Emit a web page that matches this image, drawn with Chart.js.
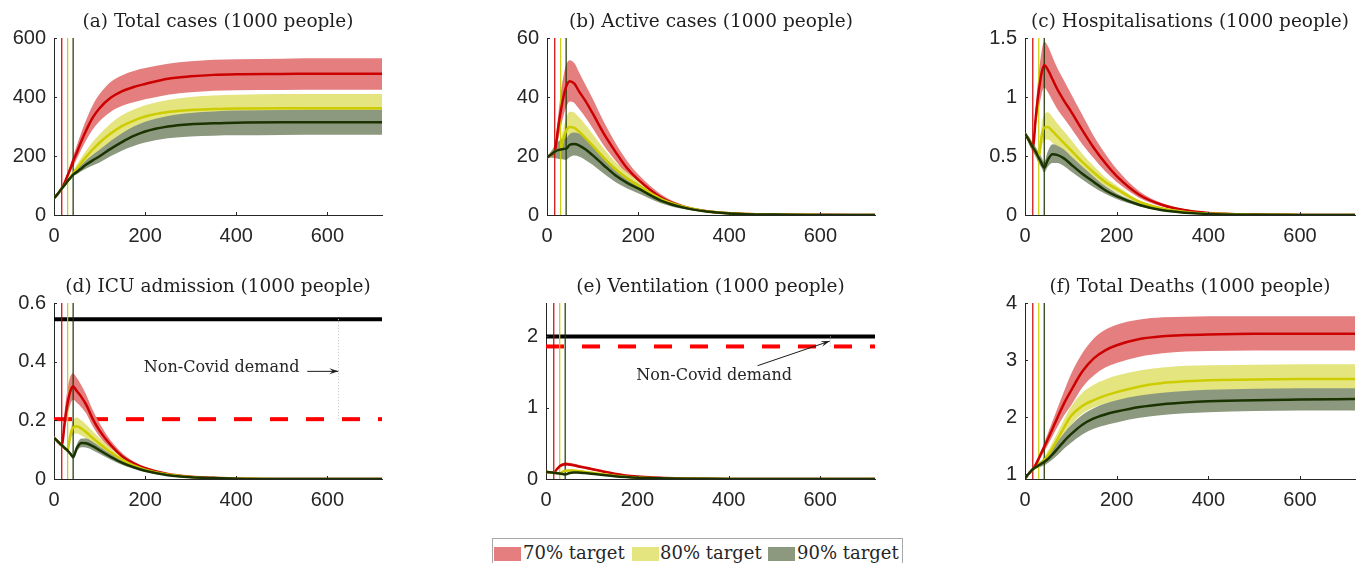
<!DOCTYPE html>
<html>
<head>
<meta charset="utf-8">
<title>Vaccination target scenarios</title>
<script src="https://cdn.jsdelivr.net/npm/chart.js@4.4.1/dist/chart.umd.min.js"></script>
<style>
  html, body { margin: 0; padding: 0; background: #fff; }
  body { position: relative; width: 1359px; height: 563px; overflow: hidden; }
  canvas { position: absolute; }
  #legend { position: absolute; left: 492px; top: 538px; width: 411px; height: 34px; border: 1px solid #a8a8a8;
            box-sizing: border-box; background: #fff; font: 18px "DejaVu Serif", serif; color: #262626; }
  #legend .sw { position: absolute; top: 8px; width: 27px; height: 14px; }
  #legend .tx { position: absolute; top: 3px; line-height: 22px; white-space: nowrap; }
</style>
</head>
<body>
<div id="legend"></div>
<script>
// sample days shared by every series
const days = [0, 9, 17, 24, 30, 36, 42, 50, 60, 70, 85, 100, 125, 150, 175, 200, 250, 300, 350, 400, 500, 600, 720];
const interventionDays = [17, 30, 42];
const targets = ["70% target", "80% target", "90% target"];
const xTicks = [0, 200, 400, 600];

// (a) total cases
const totalTicks = [0, 200, 400, 600];
const totalR   = [57, 73, 90, 112, 135, 158, 182, 212, 250, 285, 330, 362, 398, 420, 434, 444, 462, 470, 475, 477, 478, 479, 479];
const totalRHi = [57, 74, 93, 118, 145, 172, 200, 235, 280, 320, 372, 410, 452, 474, 488, 498, 513, 521, 526, 528, 530, 531, 531];
const totalRLo = [57, 72, 87, 106, 125, 144, 164, 190, 222, 252, 290, 318, 350, 370, 382, 392, 408, 416, 421, 423, 424, 425, 425];
const totalY   = [57, 73, 90, 103, 115, 128, 141, 157, 177, 196, 222, 245, 277, 302, 320, 334, 349, 356, 359, 361, 362, 362, 362];
const totalYHi = [57, 74, 92, 106, 119, 134, 150, 170, 194, 217, 248, 274, 311, 339, 358, 372, 390, 400, 405, 408, 410, 410, 410];
const totalYLo = [57, 72, 88, 100, 111, 122, 132, 144, 160, 175, 196, 216, 243, 264, 280, 293, 306, 312, 315, 317, 318, 319, 319];
const totalG   = [57, 73, 90, 103, 115, 126, 137, 146, 158, 170, 185, 199, 225, 248, 268, 283, 300, 308, 311, 313, 314, 314, 314];
const totalGHi = [57, 74, 92, 106, 119, 131, 143, 155, 170, 185, 204, 221, 252, 278, 300, 316, 336, 346, 351, 354, 356, 357, 357];
const totalGLo = [57, 72, 88, 100, 111, 121, 131, 138, 148, 157, 168, 178, 200, 219, 234, 246, 260, 266, 269, 270, 271, 272, 272];

// (b) active cases
const activeTicks = [0, 20, 40, 60];
const activeR   = [19.5, 20.5, 21.5, 29, 35, 40, 43.5, 45.3, 44.5, 42, 38.5, 34.5, 27.5, 21.5, 16, 12, 6, 2.8, 1.3, 0.6, 0.15, 0.05, 0];
const activeRHi = [19.5, 21.5, 23.5, 33, 41, 47, 51, 52.5, 51.5, 48.5, 44, 39.5, 31.5, 24.5, 18.5, 13.8, 7, 3.3, 1.5, 0.7, 0.2, 0.05, 0];
const activeRLo = [19.5, 19.5, 19.3, 25, 29.5, 33.5, 36.5, 38.5, 38, 36, 33, 29.5, 23.5, 18.5, 13.8, 10.3, 5.1, 2.4, 1.1, 0.5, 0.12, 0.03, 0];
const activeY   = [19.5, 20.5, 21.5, 22, 22.2, 26, 28.5, 29.8, 29.5, 28.3, 26, 23.5, 19.3, 15.5, 12.5, 10, 5.5, 2.8, 1.3, 0.6, 0.15, 0.04, 0];
const activeYHi = [19.5, 21.5, 23.5, 24.8, 25.5, 29.5, 33, 35, 34.7, 33.2, 30.5, 27.5, 22.5, 18, 14.5, 11.5, 6.3, 3.2, 1.5, 0.7, 0.17, 0.05, 0];
const activeYLo = [19.5, 19.5, 19.3, 19.1, 19, 21.5, 23.5, 25.5, 25.3, 24.2, 22.2, 20, 16.5, 13.2, 10.7, 8.5, 4.7, 2.4, 1.1, 0.5, 0.12, 0.03, 0];
const activeG   = [19.5, 20.5, 21.5, 22, 22.2, 22.4, 22.5, 23.8, 24.1, 23.6, 22.2, 20.3, 16.8, 13.5, 11, 9, 4.9, 2.5, 1.2, 0.55, 0.13, 0.03, 0];
const activeGHi = [19.5, 21.5, 23.5, 24.8, 25.5, 25.8, 26, 27.5, 28, 27.6, 26, 23.8, 19.8, 16, 13, 10.6, 5.8, 3, 1.4, 0.65, 0.15, 0.04, 0];
const activeGLo = [19.5, 19.5, 19.3, 19.1, 19, 18.8, 18.7, 19.7, 20.2, 19.8, 18.6, 17, 14, 11.2, 9.1, 7.4, 4, 2, 1, 0.45, 0.1, 0.02, 0];

// (c) hospitalisations
const hospTicks = [0, 0.5, 1, 1.5];
const hospR   = [0.69, 0.63, 0.575, 0.85, 1.05, 1.2, 1.27, 1.23, 1.15, 1.07, 0.97, 0.88, 0.72, 0.57, 0.44, 0.33, 0.17, 0.085, 0.04, 0.018, 0.004, 0.001, 0];
const hospRHi = [0.7, 0.66, 0.61, 0.95, 1.2, 1.38, 1.47, 1.43, 1.34, 1.25, 1.14, 1.03, 0.85, 0.67, 0.52, 0.39, 0.2, 0.1, 0.048, 0.021, 0.005, 0.001, 0];
const hospRLo = [0.68, 0.6, 0.54, 0.76, 0.9, 1.02, 1.08, 1.04, 0.97, 0.9, 0.82, 0.74, 0.6, 0.48, 0.37, 0.28, 0.145, 0.072, 0.034, 0.015, 0.003, 0.001, 0];
const hospY   = [0.69, 0.63, 0.575, 0.53, 0.485, 0.66, 0.74, 0.745, 0.71, 0.67, 0.61, 0.55, 0.45, 0.36, 0.28, 0.22, 0.11, 0.055, 0.026, 0.012, 0.003, 0.001, 0];
const hospYHi = [0.7, 0.66, 0.61, 0.57, 0.53, 0.76, 0.85, 0.87, 0.83, 0.78, 0.71, 0.64, 0.52, 0.415, 0.32, 0.25, 0.125, 0.063, 0.03, 0.014, 0.003, 0.001, 0];
const hospYLo = [0.68, 0.6, 0.54, 0.49, 0.44, 0.57, 0.63, 0.64, 0.61, 0.58, 0.53, 0.48, 0.39, 0.31, 0.245, 0.19, 0.097, 0.048, 0.022, 0.01, 0.002, 0.001, 0];
const hospG   = [0.69, 0.63, 0.575, 0.53, 0.485, 0.44, 0.4, 0.47, 0.515, 0.51, 0.48, 0.43, 0.35, 0.28, 0.21, 0.16, 0.085, 0.04, 0.02, 0.009, 0.002, 0, 0];
const hospGHi = [0.7, 0.66, 0.61, 0.57, 0.53, 0.49, 0.45, 0.54, 0.6, 0.59, 0.555, 0.5, 0.41, 0.325, 0.245, 0.185, 0.1, 0.047, 0.023, 0.01, 0.002, 0, 0];
const hospGLo = [0.68, 0.6, 0.54, 0.49, 0.44, 0.4, 0.36, 0.41, 0.44, 0.44, 0.415, 0.37, 0.3, 0.235, 0.18, 0.135, 0.072, 0.034, 0.017, 0.008, 0.002, 0, 0];

// (d) ICU admission
const icuTicks = [0, 0.2, 0.4, 0.6];
const icuLevels = [0.545, 0.204];   // capacity, non-covid demand
const icuR   = [0.14, 0.127, 0.115, 0.2, 0.26, 0.3, 0.315, 0.3, 0.28, 0.255, 0.205, 0.165, 0.115, 0.077, 0.053, 0.037, 0.017, 0.008, 0.004, 0.002, 0, 0, 0];
const icuRHi = [0.145, 0.133, 0.12, 0.24, 0.31, 0.35, 0.36, 0.345, 0.32, 0.29, 0.235, 0.19, 0.13, 0.088, 0.06, 0.042, 0.019, 0.009, 0.004, 0.002, 0, 0, 0];
const icuRLo = [0.135, 0.121, 0.11, 0.17, 0.22, 0.255, 0.27, 0.26, 0.245, 0.225, 0.18, 0.145, 0.1, 0.067, 0.046, 0.032, 0.015, 0.007, 0.003, 0.001, 0, 0, 0];
const icuY   = [0.14, 0.127, 0.115, 0.105, 0.097, 0.15, 0.175, 0.18, 0.172, 0.16, 0.14, 0.12, 0.09, 0.065, 0.046, 0.032, 0.015, 0.007, 0.003, 0.0015, 0, 0, 0];
const icuYHi = [0.145, 0.133, 0.12, 0.11, 0.102, 0.17, 0.2, 0.21, 0.2, 0.187, 0.163, 0.14, 0.105, 0.075, 0.053, 0.037, 0.017, 0.008, 0.004, 0.002, 0, 0, 0];
const icuYLo = [0.135, 0.121, 0.11, 0.1, 0.092, 0.13, 0.15, 0.155, 0.148, 0.138, 0.12, 0.103, 0.078, 0.057, 0.04, 0.028, 0.013, 0.006, 0.003, 0.001, 0, 0, 0];
const icuG   = [0.14, 0.127, 0.115, 0.105, 0.097, 0.086, 0.075, 0.105, 0.123, 0.122, 0.112, 0.098, 0.075, 0.055, 0.04, 0.028, 0.013, 0.006, 0.003, 0.001, 0, 0, 0];
const icuGHi = [0.145, 0.133, 0.12, 0.11, 0.102, 0.092, 0.082, 0.118, 0.138, 0.138, 0.127, 0.111, 0.085, 0.062, 0.045, 0.032, 0.015, 0.007, 0.003, 0.001, 0, 0, 0];
const icuGLo = [0.135, 0.121, 0.11, 0.1, 0.092, 0.08, 0.068, 0.093, 0.108, 0.107, 0.098, 0.086, 0.066, 0.048, 0.035, 0.024, 0.011, 0.005, 0.002, 0.001, 0, 0, 0];

// (e) ventilation
const ventTicks = [0, 1, 2];
const ventLevels = [2.0, 1.86];
const ventR   = [0.1, 0.095, 0.088, 0.14, 0.18, 0.2, 0.21, 0.205, 0.195, 0.18, 0.16, 0.14, 0.105, 0.075, 0.05, 0.035, 0.016, 0.007, 0.003, 0.001, 0, 0, 0];
const ventRHi = [0.105, 0.1, 0.093, 0.155, 0.2, 0.222, 0.233, 0.228, 0.217, 0.2, 0.178, 0.156, 0.117, 0.084, 0.056, 0.039, 0.018, 0.008, 0.003, 0.001, 0, 0, 0];
const ventRLo = [0.095, 0.09, 0.083, 0.125, 0.16, 0.178, 0.187, 0.182, 0.173, 0.16, 0.142, 0.124, 0.093, 0.066, 0.044, 0.031, 0.014, 0.006, 0.003, 0.001, 0, 0, 0];
const ventY   = [0.1, 0.095, 0.088, 0.082, 0.077, 0.1, 0.115, 0.12, 0.118, 0.112, 0.1, 0.088, 0.066, 0.047, 0.032, 0.022, 0.01, 0.004, 0.002, 0.001, 0, 0, 0];
const ventYHi = [0.105, 0.1, 0.093, 0.087, 0.082, 0.112, 0.128, 0.134, 0.132, 0.125, 0.112, 0.098, 0.074, 0.053, 0.036, 0.025, 0.011, 0.005, 0.002, 0.001, 0, 0, 0];
const ventYLo = [0.095, 0.09, 0.083, 0.077, 0.072, 0.088, 0.102, 0.106, 0.104, 0.099, 0.088, 0.078, 0.058, 0.041, 0.028, 0.019, 0.009, 0.004, 0.002, 0.001, 0, 0, 0];
const ventG   = [0.1, 0.095, 0.088, 0.082, 0.077, 0.07, 0.062, 0.08, 0.09, 0.09, 0.083, 0.073, 0.056, 0.04, 0.028, 0.019, 0.009, 0.004, 0.002, 0.001, 0, 0, 0];
const ventGHi = [0.105, 0.1, 0.093, 0.087, 0.082, 0.075, 0.067, 0.088, 0.1, 0.1, 0.092, 0.081, 0.062, 0.045, 0.031, 0.021, 0.01, 0.004, 0.002, 0.001, 0, 0, 0];
const ventGLo = [0.095, 0.09, 0.083, 0.077, 0.072, 0.065, 0.057, 0.072, 0.08, 0.08, 0.074, 0.065, 0.05, 0.035, 0.025, 0.017, 0.008, 0.003, 0.002, 0.001, 0, 0, 0];

// (f) total deaths
const deathTicks = [1, 2, 3, 4];
const deathR   = [0.93, 1.02, 1.09, 1.18, 1.28, 1.38, 1.48, 1.62, 1.8, 1.98, 2.24, 2.46, 2.8, 3.03, 3.17, 3.26, 3.37, 3.42, 3.44, 3.45, 3.46, 3.46, 3.46];
const deathRHi = [0.93, 1.03, 1.11, 1.22, 1.33, 1.44, 1.56, 1.72, 1.93, 2.14, 2.45, 2.75, 3.12, 3.38, 3.53, 3.62, 3.71, 3.75, 3.76, 3.77, 3.77, 3.77, 3.77];
const deathRLo = [0.93, 1.01, 1.07, 1.15, 1.23, 1.32, 1.4, 1.52, 1.67, 1.82, 2.03, 2.2, 2.52, 2.73, 2.87, 2.95, 3.06, 3.12, 3.15, 3.16, 3.17, 3.17, 3.17];
const deathY   = [0.93, 1.02, 1.09, 1.13, 1.16, 1.2, 1.25, 1.33, 1.46, 1.6, 1.82, 2.02, 2.2, 2.3, 2.38, 2.44, 2.54, 2.6, 2.63, 2.65, 2.66, 2.67, 2.67];
const deathYHi = [0.93, 1.03, 1.11, 1.16, 1.2, 1.25, 1.31, 1.41, 1.56, 1.72, 1.96, 2.18, 2.43, 2.57, 2.66, 2.73, 2.82, 2.87, 2.9, 2.91, 2.92, 2.93, 2.93];
const deathYLo = [0.93, 1.01, 1.07, 1.1, 1.12, 1.15, 1.19, 1.25, 1.36, 1.48, 1.68, 1.86, 2.06, 2.17, 2.24, 2.29, 2.36, 2.4, 2.42, 2.43, 2.44, 2.44, 2.44];
const deathG   = [0.93, 1.02, 1.09, 1.13, 1.16, 1.19, 1.22, 1.27, 1.35, 1.44, 1.58, 1.7, 1.87, 1.98, 2.05, 2.1, 2.18, 2.23, 2.26, 2.28, 2.3, 2.31, 2.32];
const deathGHi = [0.93, 1.03, 1.11, 1.16, 1.2, 1.24, 1.28, 1.35, 1.45, 1.56, 1.72, 1.86, 2.04, 2.16, 2.24, 2.3, 2.38, 2.43, 2.46, 2.48, 2.5, 2.51, 2.51];
const deathGLo = [0.93, 1.01, 1.07, 1.1, 1.12, 1.14, 1.16, 1.2, 1.26, 1.33, 1.45, 1.55, 1.7, 1.8, 1.86, 1.91, 1.99, 2.04, 2.07, 2.09, 2.11, 2.12, 2.12];

const lineColors = ["#cc0000", "#cccc00", "#1a3300"];
const bandColors = ["#e57f7f", "#e5e57f", "#8c997f"];
const ink = "#262626";

// plot-area rectangles on the page (left, top, right, bottom)
const panels = [
	{ title: "(a) Total cases (1000 people)", area: [54, 38, 382, 215], yMin: 0, yMax: 600, yTicks: totalTicks,
	  series: [[totalR, totalRLo, totalRHi], [totalY, totalYLo, totalYHi], [totalG, totalGLo, totalGHi]] },
	{ title: "(b) Active cases (1000 people)", area: [547, 38, 875, 215], yMin: 0, yMax: 60, yTicks: activeTicks,
	  series: [[activeR, activeRLo, activeRHi], [activeY, activeYLo, activeYHi], [activeG, activeGLo, activeGHi]] },
	{ title: "(c) Hospitalisations (1000 people)", area: [1025, 38, 1355, 215], yMin: 0, yMax: 1.5, yTicks: hospTicks,
	  series: [[hospR, hospRLo, hospRHi], [hospY, hospYLo, hospYHi], [hospG, hospGLo, hospGHi]] },
	{ title: "(d) ICU admission (1000 people)", area: [54, 303, 382, 479], yMin: 0, yMax: 0.6, yTicks: icuTicks,
	  series: [[icuR, icuRLo, icuRHi], [icuY, icuYLo, icuYHi], [icuG, icuGLo, icuGHi]],
	  levels: icuLevels,
	  note: { text: "Non-Covid demand", at: [368, 0.378], from: [556, 0.367], to: [624, 0.367], drop: [624, 0.545, 0.204] } },
	{ title: "(e) Ventilation (1000 people)", area: [546, 303, 875, 479], yMin: 0, yMax: 2.47, yTicks: ventTicks,
	  series: [[ventR, ventRLo, ventRHi], [ventY, ventYLo, ventYHi], [ventG, ventGLo, ventGHi]],
	  levels: ventLevels,
	  note: { text: "Non-Covid demand", at: [368, 1.45], from: [463, 1.59], to: [621, 1.935], drop: [621, 2.0, 1.86] } },
	{ title: "(f) Total Deaths (1000 people)", area: [1025, 303, 1355, 479], yMin: 0.92, yMax: 4, yTicks: deathTicks,
	  series: [[deathR, deathRLo, deathRHi], [deathY, deathYLo, deathYHi], [deathG, deathGLo, deathGHi]] },
];

const Y_AXIS_W = 54, X_AXIS_H = 40, TITLE_H = 38, PAD_R = 4;

Chart.defaults.font.family = "'Liberation Sans', Arial, sans-serif";
Chart.defaults.elements.point.radius = 0;

// MATLAB style tick marks pointing into the plot
const innerTicks = {
	id: "innerTicks",
	afterDraw(chart) {
		const { ctx, chartArea: a, scales: { x, y } } = chart;
		ctx.save();
		ctx.strokeStyle = ink;
		ctx.lineWidth = 1;
		ctx.beginPath();
		x.ticks.forEach((t) => {
			const px = Math.round(x.getPixelForValue(t.value)) + 0.5;
			ctx.moveTo(px, a.bottom);
			ctx.lineTo(px, a.bottom - 3);
		});
		y.ticks.forEach((t) => {
			const py = Math.round(y.getPixelForValue(t.value)) + 0.5;
			ctx.moveTo(a.left, py);
			ctx.lineTo(a.left + 3, py);
		});
		ctx.stroke();
		ctx.restore();
	},
};

function notePlugin(note) {
	return {
		id: "demandNote",
		afterDatasetsDraw(chart) {
			const { ctx, scales: { x, y } } = chart;
			ctx.save();
			// dotted drop between capacity and demand
			ctx.strokeStyle = "#c4c4c4";
			ctx.lineWidth = 1;
			ctx.setLineDash([1, 2]);
			const dx = Math.round(x.getPixelForValue(note.drop[0])) + 0.5;
			ctx.beginPath();
			ctx.moveTo(dx, y.getPixelForValue(note.drop[1]));
			ctx.lineTo(dx, y.getPixelForValue(note.drop[2]));
			ctx.stroke();
			ctx.setLineDash([]);

			// arrow
			const x0 = x.getPixelForValue(note.from[0]), y0 = y.getPixelForValue(note.from[1]);
			const x1 = x.getPixelForValue(note.to[0]), y1 = y.getPixelForValue(note.to[1]);
			const ang = Math.atan2(y1 - y0, x1 - x0);
			ctx.strokeStyle = "#1a1a1a";
			ctx.fillStyle = "#1a1a1a";
			ctx.beginPath();
			ctx.moveTo(x0, y0);
			ctx.lineTo(x1, y1);
			ctx.stroke();
			const len = 9, half = 3;
			ctx.beginPath();
			ctx.moveTo(x1, y1);
			ctx.lineTo(x1 - len * Math.cos(ang) + half * Math.sin(ang), y1 - len * Math.sin(ang) - half * Math.cos(ang));
			ctx.lineTo(x1 - 0.6 * len * Math.cos(ang), y1 - 0.6 * len * Math.sin(ang));
			ctx.lineTo(x1 - len * Math.cos(ang) - half * Math.sin(ang), y1 - len * Math.sin(ang) + half * Math.cos(ang));
			ctx.closePath();
			ctx.fill();

			ctx.font = "16px 'DejaVu Serif', serif";
			ctx.fillStyle = ink;
			ctx.textAlign = "center";
			ctx.textBaseline = "middle";
			ctx.fillText(note.text, x.getPixelForValue(note.at[0]), y.getPixelForValue(note.at[1]));
			ctx.restore();
		},
	};
}

function buildDatasets(p) {
	const pts = (vals) => days.map((d, i) => ({ x: d, y: vals[i] }));
	const sets = [];
	if (p.levels) {
		sets.push({ data: [{ x: 0, y: p.levels[0] }, { x: 720, y: p.levels[0] }], borderColor: "#000000", borderWidth: 4, order: 30 });
		sets.push({ data: [{ x: 0, y: p.levels[1] }, { x: 720, y: p.levels[1] }], borderColor: "#ff0000", borderWidth: 4,
			borderDash: [18, 18], borderCapStyle: "butt", order: 30 });
	}
	p.series.forEach((s, k) => {
		sets.push({ data: pts(s[2]), fill: "+1", backgroundColor: bandColors[k], borderColor: "transparent",
			borderWidth: 0, cubicInterpolationMode: "monotone", order: 20 - k });
		sets.push({ data: pts(s[1]), fill: false, borderColor: "transparent", borderWidth: 0,
			cubicInterpolationMode: "monotone", order: 20 - k });
	});
	interventionDays.forEach((d, k) => {
		sets.push({ data: [{ x: d, y: p.yMin }, { x: d, y: p.yMax }], borderColor: lineColors[k], borderWidth: 1.2, order: 10 });
	});
	p.series.forEach((s, k) => {
		sets.push({ data: pts(s[0]), fill: false, borderColor: lineColors[k], borderWidth: 2.5,
			cubicInterpolationMode: "monotone", order: 5 - k });
	});
	return sets;
}

panels.forEach((p) => {
	const [L, T, R, B] = p.area;
	const canvas = document.createElement("canvas");
	canvas.width = R - L + Y_AXIS_W + PAD_R;
	canvas.height = B - T + TITLE_H + X_AXIS_H;
	canvas.style.left = L - Y_AXIS_W + "px";
	canvas.style.top = T - TITLE_H + "px";
	document.body.appendChild(canvas);

	const plugins = [innerTicks];
	if (p.note) plugins.push(notePlugin(p.note));

	new Chart(canvas, {
		type: "line",
		data: { datasets: buildDatasets(p) },
		plugins: plugins,
		options: {
			responsive: false,
			animation: false,
			devicePixelRatio: 1,
			events: [],
			layout: { padding: { left: 0, right: PAD_R, top: 0, bottom: 0 } },
			plugins: {
				legend: { display: false },
				tooltip: { enabled: false },
				title: {
					display: true,
					text: p.title,
					fullSize: false,
					color: "#1f1f1f",
					font: { family: "'DejaVu Serif', serif", size: 18.5, weight: "normal", lineHeight: 1.2 },
					padding: { top: 10.9, bottom: 4.9 },
				},
			},
			scales: {
				x: {
					type: "linear",
					min: 0,
					max: 720,
					afterBuildTicks: (s) => { s.ticks = xTicks.map((v) => ({ value: v })); },
					afterFit: (s) => { s.height = X_AXIS_H; },
					ticks: { color: ink, font: { size: 20 }, padding: 9, maxRotation: 0, callback: (v) => String(v) },
					grid: { display: true, drawOnChartArea: false, drawTicks: false },
					border: { display: true, color: ink, width: 1 },
				},
				y: {
					type: "linear",
					min: p.yMin,
					max: p.yMax,
					afterBuildTicks: (s) => { s.ticks = p.yTicks.map((v) => ({ value: v })); },
					afterFit: (s) => { s.width = Y_AXIS_W; },
					ticks: { color: ink, font: { size: 20 }, padding: 8, callback: (v) => String(v) },
					grid: { display: true, drawOnChartArea: false, drawTicks: false },
					border: { display: true, color: ink, width: 1 },
				},
			},
		},
	});
});

// legend box under the middle column
const legend = document.getElementById("legend");
const swatchX = [1, 139, 275];
const labelX = [30, 167, 304];
targets.forEach((name, k) => {
	const sw = document.createElement("span");
	sw.className = "sw";
	sw.style.left = swatchX[k] + "px";
	sw.style.background = bandColors[k];
	legend.appendChild(sw);
	const tx = document.createElement("span");
	tx.className = "tx";
	tx.style.left = labelX[k] + "px";
	tx.textContent = name;
	legend.appendChild(tx);
});
</script>
</body>
</html>
